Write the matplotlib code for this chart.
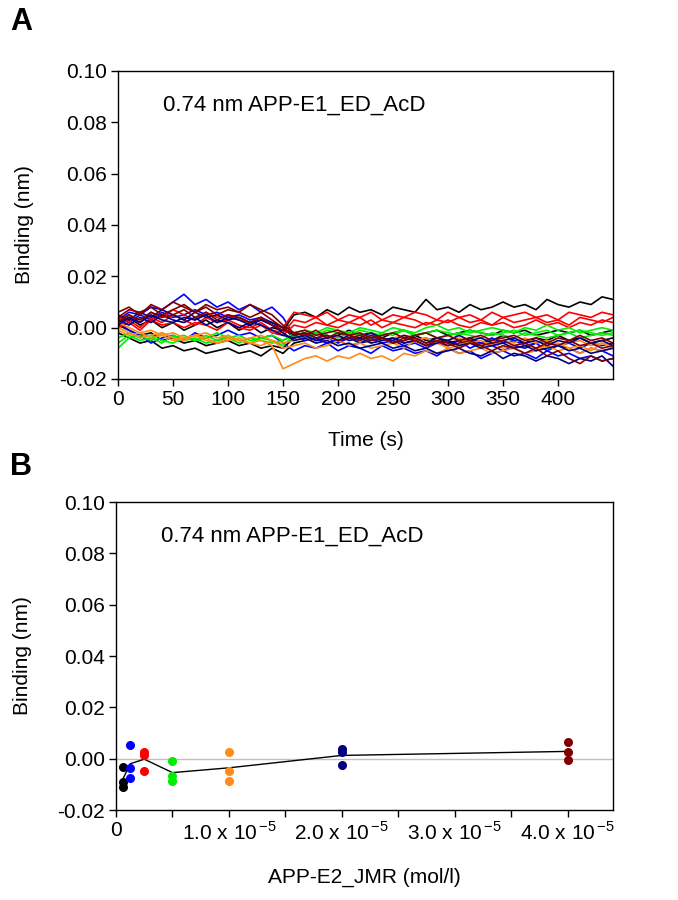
import matplotlib
matplotlib.use("Agg")
import matplotlib.pyplot as plt
import numpy as np

plt.rcParams['font.family'] = ['Liberation Sans', 'DejaVu Sans']

# panel A: sensorgram traces, binding in pm (0.001 nm), one value every 10 s
time_s = list(range(0, 451, 10))

black_1 = [2, 4, 1, 3, 0, 2, -1, 1, 3, 0, 2, -1, 1, -2, 0, -1, 5, 6, 4, 7, 5, 8, 6, 7, 5, 8, 7, 6, 11, 7, 8, 6, 9, 7, 8, 10, 8, 9, 7, 11, 9, 8, 10, 9, 12, 11]
black_2 = [-2, -4, -6, -5, -8, -7, -9, -8, -10, -9, -8, -10, -9, -11, -8, -10, -6, -5, -4, -6, -5, -4, -6, -5, -4, -6, -5, -3, -5, -4, -6, -5, -4, -6, -5, -3, -5, -6, -4, -5, -3, -5, -4, -6, -5, -4]
black_3 = [1, -1, -3, -2, -5, -4, -6, -5, -7, -6, -5, -7, -6, -8, -7, -8, -4, -3, -2, -4, -3, -1, -3, -2, -4, -2, -1, -3, -2, -1, -3, -2, -1, -2, -3, -1, -2, -1, -3, -2, -1, -2, -1, -3, -2, -1]
blue_1 = [3, 6, 5, 8, 7, 10, 13, 9, 11, 8, 10, 7, 9, 6, 8, 4, -3, -5, -4, -6, -5, -7, -6, -4, -6, -5, -7, -6, -8, -6, -7, -5, -8, -6, -7, -9, -7, -8, -6, -9, -7, -8, -10, -8, -9, -11]
blue_2 = [2, -1, -3, -6, -4, -3, -5, -2, -4, -3, -1, -3, -2, -4, -3, -6, -9, -7, -8, -6, -9, -7, -8, -10, -7, -9, -8, -10, -9, -11, -8, -10, -9, -12, -10, -9, -11, -10, -12, -9, -11, -10, -12, -11, -13, -12]
blue_3 = [4, 2, 5, 3, 6, 4, 5, 7, 5, 6, 4, 5, 3, 4, 2, 0, -4, -3, -5, -4, -6, -4, -5, -3, -5, -4, -6, -5, -4, -6, -5, -7, -5, -6, -4, -6, -5, -7, -6, -5, -7, -6, -8, -6, -7, -6]
red_1 = [3, 5, 2, 6, 4, 7, 5, 3, 6, 4, 5, 3, 2, 4, 1, 0, 6, 5, 4, 6, 3, 5, 4, 6, 3, 5, 4, 6, 5, 3, 6, 4, 5, 3, 6, 4, 5, 6, 4, 5, 3, 6, 5, 4, 6, 5]
red_2 = [1, 3, 0, 4, 2, 5, 3, 1, 4, 2, 3, 1, 0, 2, -1, -2, 3, 2, 4, 1, 3, 2, 4, 1, 3, 2, 4, 3, 1, 3, 2, 4, 2, 3, 1, 4, 2, 3, 4, 2, 3, 1, 4, 3, 2, 4]
red_3 = [0, 2, -1, 3, 1, 2, 0, 2, 1, -1, 2, 0, -1, 1, -2, -3, 1, 0, 2, 1, 0, 2, 1, 3, 0, 2, 1, 0, 2, 1, 3, 1, 0, 2, 1, 2, 0, 1, 3, 1, 2, 0, 2, 1, 3, 2]
green_1 = [-8, -4, -3, -5, -2, -4, -3, -5, -4, -2, -4, -3, -5, -4, -3, -5, -2, -1, -2, 0, -1, -2, 0, -1, -2, 0, -1, -2, 0, 1, -1, 0, -2, -1, 0, -1, -2, 0, -1, 1, -1, 0, -2, -1, 0, -1]
green_2 = [-6, -3, -5, -4, -6, -3, -5, -4, -6, -5, -3, -5, -6, -4, -5, -7, -3, -2, -3, -1, -2, -3, -1, -2, -3, -2, -1, -3, -2, -1, -2, -3, -1, -2, -3, -2, -1, -3, -2, -1, -3, -2, -1, -2, -3, -2]
green_3 = [-4, -2, -4, -3, -5, -6, -4, -5, -3, -5, -4, -6, -4, -5, -6, -5, -3, -4, -2, -3, -4, -2, -3, -4, -2, -3, -1, -3, -2, -4, -3, -2, -3, -4, -2, -3, -4, -2, -3, -4, -3, -2, -4, -3, -2, -3]
orange_1 = [-1, -3, -2, -4, -3, -5, -4, -3, -5, -6, -4, -5, -6, -5, -7, -16, -14, -12, -11, -13, -11, -12, -10, -12, -11, -13, -10, -11, -9, -10, -8, -10, -9, -8, -10, -9, -8, -10, -9, -7, -9, -8, -10, -8, -9, -8]
orange_2 = [0, -2, -4, -3, -2, -4, -5, -3, -4, -6, -5, -4, -6, -7, -5, -8, -7, -6, -8, -7, -5, -7, -6, -8, -7, -6, -8, -5, -7, -6, -8, -7, -5, -7, -6, -8, -7, -6, -8, -7, -6, -8, -7, -9, -6, -7]
orange_3 = [2, 0, -2, -1, -3, -2, -4, -3, -2, -4, -3, -5, -4, -3, -5, -6, -5, -4, -6, -5, -3, -5, -4, -6, -5, -4, -3, -5, -4, -6, -5, -4, -6, -5, -7, -5, -6, -4, -6, -5, -7, -6, -5, -7, -6, -8]
navy_1 = [5, 3, 6, 4, 7, 5, 3, 6, 4, 5, 3, 4, 2, 3, 1, -2, -5, -4, -6, -5, -7, -6, -8, -7, -6, -8, -7, -9, -8, -10, -9, -8, -10, -11, -9, -12, -10, -11, -13, -11, -12, -14, -12, -13, -11, -15]
navy_2 = [3, 1, 4, 2, 5, 3, 2, 4, 1, 3, 2, 0, 2, 1, -1, -3, -4, -3, -5, -4, -3, -5, -4, -6, -5, -4, -6, -5, -7, -6, -5, -7, -6, -8, -7, -6, -8, -7, -9, -8, -7, -9, -8, -10, -9, -8]
navy_3 = [1, 4, 2, 5, 3, 2, 4, 3, 5, 2, 4, 3, 1, 3, 2, 0, -3, -2, -4, -3, -5, -3, -4, -2, -4, -5, -3, -4, -6, -4, -5, -3, -5, -4, -6, -5, -4, -6, -5, -7, -5, -6, -4, -6, -5, -7]
maroon_1 = [6, 8, 5, 9, 7, 10, 8, 6, 9, 7, 8, 6, 9, 7, 5, 1, -2, -3, -1, -4, -2, -3, -5, -3, -4, -6, -4, -5, -7, -5, -6, -8, -6, -7, -9, -7, -8, -10, -8, -11, -9, -12, -14, -11, -13, -12]
maroon_2 = [4, 7, 6, 8, 5, 7, 9, 6, 8, 5, 7, 6, 4, 6, 3, 0, -3, -2, -4, -3, -5, -4, -3, -5, -4, -6, -5, -4, -6, -5, -7, -6, -5, -7, -6, -5, -7, -6, -8, -6, -7, -5, -7, -6, -8, -7]
maroon_3 = [2, 5, 3, 6, 4, 5, 7, 4, 6, 3, 5, 4, 2, 4, 1, -1, -2, -1, -3, -2, -1, -3, -2, -4, -3, -2, -4, -3, -2, -4, -3, -5, -4, -3, -5, -4, -3, -5, -4, -6, -4, -5, -3, -5, -4, -6]

# panel B: response vs analyte concentration (mol/l), binding in nm
conc = [0.0625e-5, 0.125e-5, 0.25e-5, 0.5e-5, 1.0e-5, 2.0e-5, 4.0e-5]
resp_black = [-0.0034, -0.0092, -0.0109]
resp_blue = [0.0053, -0.0038, -0.0075]
resp_red = [0.0027, 0.0014, -0.0047]
resp_green = [-0.0008, -0.0069, -0.0086]
resp_orange = [0.0026, -0.0047, -0.0086]
resp_navy = [0.0038, 0.0025, -0.0025]
resp_maroon = [0.0064, 0.0025, -0.0004]

colors = ['#000000', '#0000ff', '#ff0000', '#00ee00', '#ff8c1a', '#000080', '#800000']
traces = [[black_1, black_2, black_3], [blue_1, blue_2, blue_3], [red_1, red_2, red_3],
          [green_1, green_2, green_3], [orange_1, orange_2, orange_3],
          [navy_1, navy_2, navy_3], [maroon_1, maroon_2, maroon_3]]
responses = [resp_black, resp_blue, resp_red, resp_green, resp_orange, resp_navy, resp_maroon]

fs = 15
fig = plt.figure(figsize=(6.78, 9.0), dpi=100)
axA = fig.add_axes([118/678, 1-379/900, 495/678, 308/900])
axB = fig.add_axes([116/678, 1-810/900, 497/678, 308/900])

for ax in (axA, axB):
    ax.set_ylim(-0.02, 0.10)
    ax.set_yticks(np.arange(-0.02, 0.101, 0.02))
    ax.set_yticklabels(['%.2f' % v for v in np.arange(-0.02, 0.101, 0.02)])
    ax.tick_params(axis='both', direction='out', length=5, width=1, labelsize=fs, pad=3,
                   top=False, right=False)
    for s in ax.spines.values():
        s.set_linewidth(1)
    ax.set_ylabel('Binding (nm)', fontsize=fs, labelpad=18)
    ax.text(0.09, 0.89, '0.74 nm APP-E1_ED_AcD', transform=ax.transAxes, fontsize=16,
            ha='left', va='center')

# panel A
for col, group in zip(colors, traces):
    for tr in group:
        axA.plot(time_s, np.array(tr) * 1e-3, color=col, lw=1.2)
axA.set_xlim(0, 450)
axA.set_xticks(range(0, 401, 50))
axA.set_xlabel('Time (s)', fontsize=fs, labelpad=16)

# panel B
axB.axhline(0, color='#c0c0c0', lw=1, zorder=1)
means = [np.mean(r) for r in responses]
axB.plot(conc, means, color='black', lw=1, zorder=2)
for c, col, r in zip(conc, colors, responses):
    axB.plot([c] * len(r), r, 'o', color=col, ms=5.5, mec=col, zorder=3)
axB.set_xlim(0, 4.4e-5)
xt = np.arange(0, 4.01e-5, 0.5e-5)
axB.set_xticks(xt)
labels = []
for v in xt:
    k = v / 1e-5
    if abs(k) < 1e-9:
        labels.append('0')
    elif abs(k - round(k)) < 1e-9:
        labels.append('%.1f x 10$^{\\,\\mathregular{-5}}$' % k)
    else:
        labels.append('')
axB.set_xticklabels(labels)
axB.set_xlabel('APP-E2_JMR (mol/l)', fontsize=fs, labelpad=17)

fig.text(10/678, 1-22/900, 'A', fontsize=22, fontweight='bold', ha='left', va='center')
fig.text(10/678, 1-467/900, 'B', fontsize=22, fontweight='bold', ha='left', va='center')

plt.savefig('out.png', dpi=100)
plt.close()
